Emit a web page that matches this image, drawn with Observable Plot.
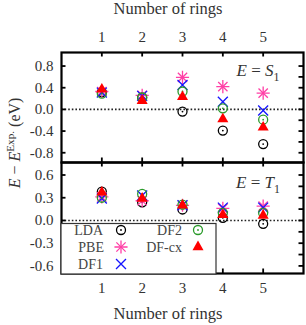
<!DOCTYPE html>
<html><head><meta charset="utf-8">
<script src="https://cdn.jsdelivr.net/npm/d3@7"></script>
<script src="https://cdn.jsdelivr.net/npm/@observablehq/plot@0.6"></script>
<style>
body{margin:0;background:#fff;}
#c{position:relative;width:306px;height:325px;font-family:"Liberation Serif",serif;color:#333;}
#c svg{position:absolute;left:0;overflow:visible;}
.t{position:absolute;white-space:nowrap;}
</style></head><body>
<div id="c"></div>
<script>
const rings = [1, 2, 3, 4, 5];
// E = S1 panel
const ldaS1  = [0.32, 0.22, -0.04, -0.39, -0.64];
const pbeS1  = [0.33, 0.26, 0.59, 0.42, 0.30];
const df1S1  = [0.31, 0.25, 0.45, 0.14, -0.02];
const df2S1  = [0.29, 0.22, 0.33, 0.02, -0.19];
const dfcxS1 = [0.37, 0.16, 0.23, -0.18, -0.33];
// E = T1 panel
const ldaT1  = [0.38, 0.24, 0.145, 0.035, -0.045];
const pbeT1  = [0.31, 0.26, 0.20, 0.16, 0.19];
const df1T1  = [0.29, 0.33, 0.20, 0.17, 0.17];
const df2T1  = [0.30, 0.35, 0.21, 0.10, 0.10];
const dfcxT1 = [0.37, 0.29, 0.20, 0.075, 0.066];
const yTicksS1 = [-0.8, -0.4, 0.0, 0.4, 0.8];
const yMinorS1 = [-0.8, -0.6, -0.4, -0.2, 0.0, 0.2, 0.4, 0.6, 0.8];
const yTicksT1 = [-0.6, -0.3, 0.0, 0.3, 0.6];
const yMinorT1 = [-0.6, -0.45, -0.3, -0.15, 0.0, 0.15, 0.3, 0.45, 0.6];
const series = ["LDA", "PBE", "DF1", "DF2", "DF-cx"];

const C = {LDA: "#000000", PBE: "#ff3fa6", DF1: "#1414ff", DF2: "#2a9a2a", "DF-cx": "#ff0000"};
const R = {circle: 4.5, dot: 0.9, pbe: 4.3, df1: 4.6, tri: 4.1};
const W = 306, ML = 61, MR = 3;
const xDomain = [0, 6];

function markers(vals) {
  const rows = k => rings.map((r, i) => ({x: r, y: vals[k][i]}));
  return [
    Plot.dot(rows(0), {x: "x", y: "y", r: R.circle, stroke: C.LDA, fill: "none", strokeWidth: 1.3}),
    Plot.dot(rows(0), {x: "x", y: "y", r: R.dot, fill: C.LDA, stroke: "none"}),
    Plot.dot(rows(1), {x: "x", y: "y", symbol: "plus", r: R.pbe, stroke: C.PBE, strokeWidth: 1.3}),
    Plot.dot(rows(1), {x: "x", y: "y", symbol: "times", r: R.pbe, stroke: C.PBE, strokeWidth: 1.3}),
    Plot.dot(rows(2), {x: "x", y: "y", symbol: "times", r: R.df1, stroke: C.DF1, strokeWidth: 1.3}),
    Plot.dot(rows(3), {x: "x", y: "y", r: R.circle, stroke: C.DF2, fill: "none", strokeWidth: 1.3}),
    Plot.dot(rows(3), {x: "x", y: "y", r: R.dot, fill: C.DF2, stroke: "none"}),
    Plot.dot(rows(4), {x: "x", y: "y", symbol: "triangle", r: R.tri, fill: C["DF-cx"], stroke: "none"})
  ];
}

function panel({height, mt, mb, yDomain, yTicks, yMinor, vals, axisTop, axisBottom}) {
  const innerH = height - mt - mb, innerW = W - ML - MR;
  const ky = (yDomain[1] - yDomain[0]) / innerH * 4.5;
  const kx = (xDomain[1] - xDomain[0]) / innerW * 4.5;
  const marks = [
    Plot.axisY(yTicks, {anchor: "left", tickSize: 0, tickPadding: 8, fontSize: 15, label: null, tickFormat: d => d.toFixed(1), fill: "#333"}),
    Plot.ruleY([0], {stroke: "#222", strokeWidth: 1.6, strokeDasharray: "1.6,2"}),
    ...markers(vals),
    Plot.ruleX(rings, {y1: yDomain[1], y2: yDomain[1] - ky, stroke: "#000", strokeWidth: 1.8, ariaLabel: "ticks-a"}),
    Plot.ruleX(rings, {y1: yDomain[0], y2: yDomain[0] + ky, stroke: "#000", strokeWidth: 1.8}),
    Plot.ruleY(yTicks, {x1: xDomain[0], x2: xDomain[0] + kx, stroke: "#000", strokeWidth: 1.8}),
    Plot.ruleY(yMinor, {x1: xDomain[1], x2: xDomain[1] - kx, stroke: "#000", strokeWidth: 1.8}),
    Plot.frame({stroke: "#000", strokeWidth: 2.2})
  ];
  if (axisTop) marks.unshift(Plot.axisX(rings, {anchor: "top", tickSize: 0, tickPadding: 11, fontSize: 15, label: null, fill: "#333"}));
  if (axisBottom) marks.unshift(Plot.axisX(rings, {anchor: "bottom", tickSize: 0, tickPadding: 9, fontSize: 15, label: null, fill: "#333"}));
  return Plot.plot({
    width: W, height, marginLeft: ML, marginRight: MR, marginTop: mt, marginBottom: mb,
    style: {background: "transparent", fontFamily: "Liberation Serif, serif", fontSize: "15px", color: "#333"},
    x: {domain: xDomain, label: null},
    y: {domain: yDomain, label: null},
    marks
  });
}

const c = document.getElementById("c");
const topPanel = panel({height: 163, mt: 52, mb: 1, yDomain: [-0.98, 1.05], yTicks: yTicksS1, yMinor: yMinorS1,
  vals: [ldaS1, pbeS1, df1S1, df2S1, dfcxS1], axisTop: true});
topPanel.style.top = "0px";
const botPanel = panel({height: 164, mt: 1, mb: 52, yDomain: [-0.70, 0.765], yTicks: yTicksT1, yMinor: yMinorT1,
  vals: [ldaT1, pbeT1, df1T1, df2T1, dfcxT1], axisBottom: true});
botPanel.style.top = "161px";
c.appendChild(topPanel);
c.appendChild(botPanel);

// legend inside bottom panel (drawn beneath the tick marks)
const svg = d3.select(botPanel);
const lg = svg.insert("g", '[aria-label="ticks-a"]');
lg.append("rect").attr("x", ML).attr("y", 62.5).attr("width", 155).attr("height", 50.5)
  .attr("fill", "#fff").attr("stroke", "#333").attr("stroke-width", 1.2);
const pos = {LDA: [103, 121, 69], PBE: [104, 121, 86], DF1: [103, 121, 103], DF2: [182, 198, 69], "DF-cx": [182, 198, 86]};
for (const s of series) {
  const [tx, mx, yy] = pos[s];
  lg.append("text").attr("x", tx).attr("y", yy).attr("dy", "0.35em").attr("text-anchor", "end")
    .attr("font-family", "Liberation Serif, serif").attr("font-size", 14).attr("fill", "#444").text(s);
  const g = lg.append("g").attr("transform", `translate(${mx},${yy})`);
  if (s === "LDA" || s === "DF2") {
    g.append("circle").attr("r", R.circle).attr("fill", "none").attr("stroke", C[s]).attr("stroke-width", 1.3);
    g.append("circle").attr("r", R.dot).attr("fill", C[s]);
  } else if (s === "PBE") {
    g.append("path").attr("d", d3.symbol(d3.symbolPlus, Math.PI * R.pbe * R.pbe)()).attr("fill", "none").attr("stroke", C[s]).attr("stroke-width", 1.3);
    g.append("path").attr("d", d3.symbol(d3.symbolTimes, Math.PI * R.pbe * R.pbe)()).attr("fill", "none").attr("stroke", C[s]).attr("stroke-width", 1.3);
  } else if (s === "DF1") {
    g.append("path").attr("d", d3.symbol(d3.symbolTimes, Math.PI * R.df1 * R.df1)()).attr("fill", "none").attr("stroke", C[s]).attr("stroke-width", 1.3);
  } else {
    g.append("path").attr("d", d3.symbol(d3.symbolTriangle, Math.PI * R.tri * R.tri)()).attr("fill", C[s]);
  }
}

function addText(html, x, y, size, extra) {
  const d = document.createElement("div");
  d.className = "t";
  d.innerHTML = html;
  d.style.left = x + "px"; d.style.top = y + "px"; d.style.fontSize = size + "px";
  d.style.transform = "translate(-50%,-50%)" + (extra || "");
  c.appendChild(d);
}
addText("Number of rings", 168, 9, 16.5);
addText("Number of rings", 168, 314, 16.5);
addText('<i>E</i> − <i>E</i><sup style="font-size:0.7em">Exp.</sup> (eV)', 14, 143, 16, " rotate(-90deg)");
addText('<i>E</i> = <i>S</i><sub style="font-size:0.7em">1</sub>', 258, 73, 17);
addText('<i>E</i> = <i>T</i><sub style="font-size:0.7em">1</sub>', 258, 185, 17);
</script>
</body></html>
